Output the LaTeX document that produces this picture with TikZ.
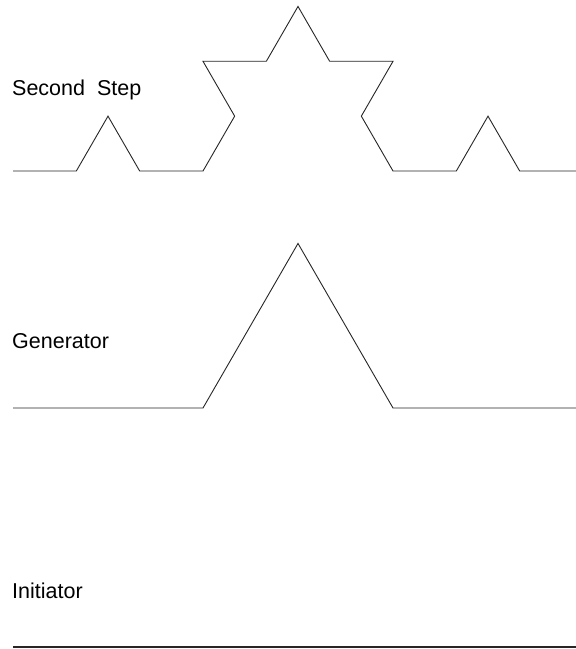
\documentclass[tikz,border=0pt]{standalone}
\usepackage{fontspec}
\setmainfont{Liberation Sans}
\begin{document}
\begin{tikzpicture}[x=1pt,y=1pt,
  curve/.style={draw=black!85,line width=0.9pt,line join=miter},
  lbl/.style={anchor=base west,inner sep=0pt,font=\fontsize{21.5}{25}\selectfont}]
\useasboundingbox (0,0) rectangle (576,649);
\fill[white] (0,0) rectangle (576,649);
\clip (0,0) rectangle (576,649);
\def\s{63.3333}
% labels
\node[lbl] (l2) at (12,553) {Second\ \ Step};
\node[lbl] (l1) at (12,300) {Generator};
\node[lbl] (l0) at (12,50) {Initiator};
% initiator
\draw[curve,line width=1.1pt] (13,2) -- (583,2);
% generator
\draw[curve] (13,241) -- ++(0:190) -- ++(60:190) -- ++(-60:190) -- ++(0:190);
% second step
\draw[curve] (13,478)
  -- ++(0:\s) -- ++(60:\s) -- ++(-60:\s) -- ++(0:\s)
  -- ++(60:\s) -- ++(120:\s) -- ++(0:\s) -- ++(60:\s)
  -- ++(-60:\s) -- ++(0:\s) -- ++(-120:\s) -- ++(-60:\s)
  -- ++(0:\s) -- ++(60:\s) -- ++(-60:\s) -- ++(0:\s);
\end{tikzpicture}
\end{document}
